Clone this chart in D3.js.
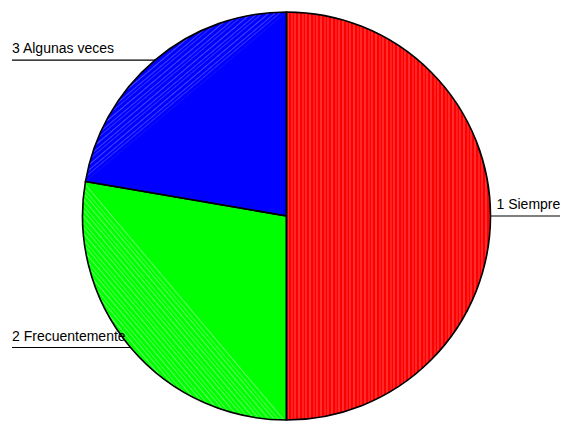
<!DOCTYPE html>
<html>
<head>
<meta charset="utf-8">
<script src="https://cdn.jsdelivr.net/npm/d3@7/dist/d3.min.js"></script>
<style>
  html, body { margin: 0; padding: 0; background: #fff; }
  svg { display: block; }
</style>
</head>
<body>
<svg id="chart" width="565" height="421"></svg>
<script>
// ---- data ----
const categories = ["1 Siempre", "2 Frecuentemente", "3 Algunas veces"];
const values = [50.0, 27.7, 22.3];
const colors = ["#ff0000", "#00ff00", "#0000ff"];
const stripeColors = ["#ff7070", "#7dff7d", "#5a5aff"];

// ---- layout ----
const W = 565, H = 421;
const cx = 286.5, cy = 216, R = 204;

const svg = d3.select("#chart");
const defs = svg.append("defs");
const g = svg.append("g").attr("transform", `translate(${cx},${cy})`);

const pie = d3.pie().sort(null).value(d => d.v).startAngle(0).endAngle(2 * Math.PI);
const data = categories.map((c, i) => ({ c, v: values[i], i }));
const arcs = pie(data);
const arc = d3.arc().innerRadius(0).outerRadius(R);
const pt = (a, r) => [r * Math.sin(a), -r * Math.cos(a)];

// stripe patterns aligned with each slice's chord
arcs.forEach((d, i) => {
  const p0 = pt(d.startAngle, R), p1 = pt(d.endAngle, R);
  const ang = Math.atan2(p1[1] - p0[1], p1[0] - p0[0]) * 180 / Math.PI - 90;
  const pat = defs.append("pattern")
    .attr("id", "pat" + i)
    .attr("patternUnits", "userSpaceOnUse")
    .attr("width", 11).attr("height", 11)
    .attr("patternTransform", `rotate(${ang})`);
  pat.append("rect").attr("width", 11).attr("height", 11).attr("fill", colors[i]);
  pat.append("rect").attr("x", 1).attr("width", 1).attr("height", 11)
    .attr("fill", stripeColors[i]).attr("opacity", 0.8);
  pat.append("rect").attr("x", 5).attr("width", 1).attr("height", 11)
    .attr("fill", stripeColors[i]).attr("opacity", 0.55);
  pat.append("rect").attr("x", 8).attr("width", 1).attr("height", 11)
    .attr("fill", stripeColors[i]).attr("opacity", 0.7);
});

// solid slices
g.selectAll("path.slice").data(arcs).enter().append("path")
  .attr("class", "slice")
  .attr("d", arc)
  .attr("fill", d => colors[d.data.i]);

// textured circular segments
g.selectAll("path.seg").data(arcs).enter().append("path")
  .attr("class", "seg")
  .attr("d", d => {
    const p0 = pt(d.startAngle, R), p1 = pt(d.endAngle, R);
    const large = (d.endAngle - d.startAngle) > Math.PI + 1e-6 ? 1 : 0;
    return `M${p0[0]},${p0[1]}A${R},${R} 0 ${large} 1 ${p1[0]},${p1[1]}Z`;
  })
  .attr("fill", d => `url(#pat${d.data.i})`);

// outlines
g.selectAll("path.outline").data(arcs).enter().append("path")
  .attr("class", "outline")
  .attr("d", arc)
  .attr("fill", "none")
  .attr("stroke", "#000")
  .attr("stroke-width", 1.6)
  .attr("stroke-linejoin", "round");

// labels with leader lines
const labelG = svg.append("g");
arcs.forEach(d => {
  const mid = (d.startAngle + d.endAngle) / 2;
  const p = pt(mid, R);
  const px = cx + p[0], py = cy + p[1];
  const right = p[0] > 0;
  const x1 = right ? px : 12;
  const x2 = right ? 560 : px;
  labelG.append("line")
    .attr("x1", x1).attr("x2", x2)
    .attr("y1", py).attr("y2", py)
    .attr("stroke", "#000").attr("stroke-width", 1.2);
  labelG.append("text")
    .attr("x", right ? px + 6 : 12)
    .attr("y", py - 7)
    .attr("font-family", "Liberation Sans, Arial, sans-serif")
    .attr("font-size", 14)
    .attr("fill", "#000")
    .text(d.data.c);
});
</script>
</body>
</html>
